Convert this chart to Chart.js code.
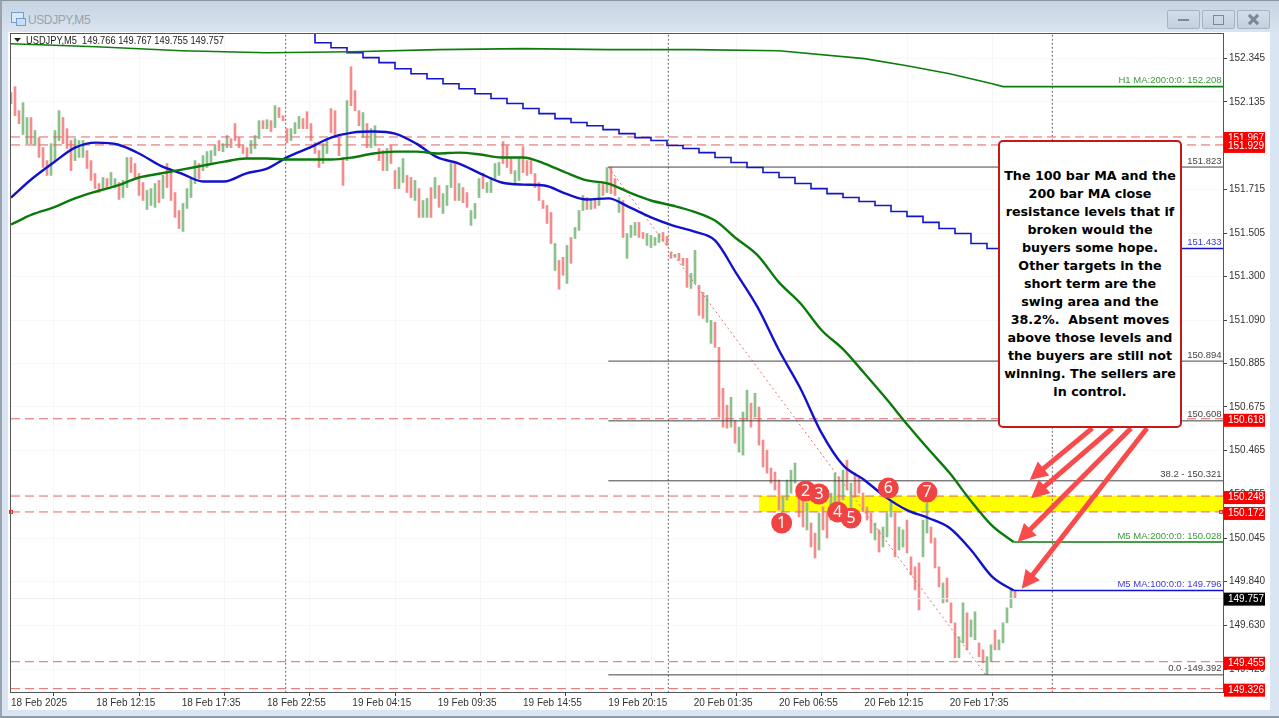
<!DOCTYPE html>
<html>
<head>
<meta charset="utf-8">
<title>USDJPY,M5</title>
<script src="https://cdn.jsdelivr.net/npm/chart.js@4"></script>
<style>
  html, body { margin: 0; padding: 0; width: 1279px; height: 718px; overflow: hidden; background: #d7e3f0; }
  #frame { position: absolute; left: 0; top: 0; width: 1279px; height: 718px; box-sizing: border-box;
           border-top: 1px solid #8b949e; border-left: 2px solid #9aa3ad; border-bottom: 2px solid #8f9aa6;
           background: linear-gradient(#c6d3e1 0px, #dbe5f0 32px, #d9e5f2 32px); }
  #titleText { position: absolute; left: 26px; top: 12px; font: 12px "Liberation Sans", sans-serif; letter-spacing: -0.4px; color: #97a3af; }
  #icon { position: absolute; left: 9px; top: 11px; width: 11px; height: 9px; border: 1px solid #6f9fd0; background: #dbe9f7; }
  #icon2 { position: absolute; left: 14px; top: 17px; width: 8px; height: 6px; border: 1px solid #6f9fd0; background: #c7def5; }
  .btn { position: absolute; top: 9px; width: 33px; height: 19px; border: 1px solid #a5b3c2; border-radius: 2px;
         background: linear-gradient(#d3deea, #c3d0df); box-sizing: border-box; }
  .btn i { position: absolute; display: block; }
  #panel { position: absolute; left: 6px; top: 31px; width: 1262px; height: 678px; background: #fff; }
  #chart { position: absolute; left: 0; top: 0; }
  #note { position: absolute; left: 998px; top: 140px; width: 184px; height: 288px; box-sizing: border-box;
          background: #fff; border: 2px solid #c41a1a; border-radius: 5px; text-align: center;
          font: bold 12.7px/18px "DejaVu Sans", sans-serif; color: #000; padding-top: 25px; white-space: pre; }
</style>
</head>
<body>
<div id="frame">
  <div id="icon"></div><div id="icon2"></div>
  <div id="titleText">USDJPY,M5</div>
  <div class="btn" style="left:1165px"><i style="left:10px;top:8px;width:11px;height:2px;background:#7c8894"></i></div>
  <div class="btn" style="left:1200px"><i style="left:10px;top:4px;width:9px;height:8px;border:1px solid #7c8894"></i></div>
  <div class="btn" style="left:1235px"><i style="left:14px;top:2px;width:3px;height:13px;background:#7c8894;transform:rotate(45deg)"></i><i style="left:14px;top:2px;width:3px;height:13px;background:#7c8894;transform:rotate(-45deg)"></i></div>
  <div id="panel"></div>
</div>
<canvas id="chart" width="1279" height="718"></canvas>
<div id="note">The 100 bar MA and the
200 bar MA close
resistance levels that if
broken would the
buyers some hope.
Other targets in the
short term are the
swing area and the
38.2%.  Absent moves
above those levels and
the buyers are still not
winning. The sellers are
in control.</div>
<script>
// Candles, read every third M5 bar off the picture
const candleHigh = [
  152.179,152.208,152.093,152.131,152.060,152.060,151.998,151.964,151.916,151.854,
  151.935,151.998,152.093,152.060,152.007,151.950,151.959,151.950,151.950,151.902,
  151.854,151.792,151.744,151.773,151.768,151.797,151.768,151.749,151.759,151.869,
  151.869,151.840,151.792,151.749,151.711,151.720,151.744,151.759,151.783,151.840,
  151.806,151.701,151.615,151.649,151.720,151.768,151.854,151.840,151.878,151.897,
  151.902,151.926,151.950,151.935,151.974,151.959,152.031,151.964,151.926,151.916,
  151.950,151.974,152.045,152.045,152.050,152.045,152.117,152.108,152.069,152.007,
  152.007,152.036,152.065,152.055,152.088,152.031,151.940,151.902,151.935,151.950,
  152.103,152.093,151.964,151.869,152.141,152.303,152.189,152.093,152.084,152.031,
  152.007,152.021,151.912,151.902,151.912,151.926,151.806,151.821,151.864,151.783,
  151.773,151.759,151.720,151.663,151.673,151.725,151.773,151.735,151.696,151.735,
  151.840,151.840,151.744,151.725,151.701,151.615,151.649,151.768,151.792,151.749,
  151.773,151.840,151.845,151.945,151.926,151.864,151.806,151.864,151.921,151.854,
  151.854,151.792,151.749,151.663,151.639,151.606,151.457,151.376,151.391,151.448,
  151.486,151.534,151.615,151.687,151.677,151.673,151.673,151.744,151.744,151.821,
  151.821,151.768,151.677,151.663,151.505,151.544,151.558,151.558,151.510,151.505,
  151.496,151.486,151.505,151.510,151.491,151.414,151.405,151.410,151.386,151.386,
  151.314,151.424,151.257,151.223,151.209,151.089,151.080,150.960,150.764,150.683,
  150.721,150.611,150.578,150.650,150.755,150.693,150.740,150.674,150.516,150.468,
  150.382,150.363,150.325,150.243,150.325,150.372,150.406,150.262,150.229,150.215,
  150.119,150.071,150.167,150.196,150.167,150.262,150.358,150.339,150.372,150.420,
  150.310,150.358,150.339,150.262,150.196,150.167,150.119,150.086,150.100,150.167,
  150.220,150.167,150.100,150.086,150.133,149.957,149.909,149.928,150.133,150.215,
  150.100,150.047,149.909,149.832,149.856,149.737,149.641,149.574,149.737,149.689,
  149.655,149.694,149.545,149.512,149.479,149.536,149.607,149.560,149.641,149.713,
  149.808,149.799
];
const candleLow = [
  152.127,152.069,152.031,151.979,151.935,151.935,151.926,151.869,151.821,151.783,
  151.783,151.854,151.950,151.935,151.912,151.806,151.854,151.869,151.869,151.816,
  151.759,151.720,151.701,151.720,151.725,151.735,151.725,151.668,151.677,151.725,
  151.797,151.773,151.687,151.663,151.620,151.639,151.630,151.653,151.673,151.725,
  151.663,151.582,151.529,151.515,151.625,151.677,151.744,151.768,151.806,151.821,
  151.845,151.878,151.902,151.897,151.916,151.916,151.950,151.916,151.888,151.869,
  151.888,151.912,151.959,152.007,152.007,151.993,152.012,152.060,152.045,151.940,
  151.950,151.983,152.007,152.007,152.007,151.950,151.888,151.821,151.840,151.888,
  151.988,151.964,151.878,151.735,151.854,152.117,152.093,152.021,151.964,151.916,
  151.916,151.926,151.854,151.806,151.806,151.840,151.720,151.720,151.749,151.701,
  151.677,151.663,151.582,151.582,151.582,151.582,151.673,151.630,151.601,151.639,
  151.725,151.663,151.663,151.653,151.630,151.544,151.577,151.677,151.720,151.701,
  151.701,151.759,151.783,151.840,151.821,151.792,151.749,151.759,151.797,151.783,
  151.792,151.725,151.663,151.625,151.553,151.457,151.328,151.238,151.305,151.266,
  151.362,151.481,151.520,151.615,151.620,151.620,151.625,151.639,151.687,151.701,
  151.696,151.687,151.606,151.486,151.386,151.486,151.496,151.486,151.481,151.448,
  151.438,151.448,151.462,151.467,151.448,151.386,151.391,151.376,151.352,151.247,
  151.242,151.266,151.113,151.099,151.080,150.979,150.960,150.626,150.578,150.573,
  150.578,150.501,150.458,150.444,150.611,150.578,150.626,150.492,150.387,150.358,
  150.310,150.277,150.181,150.172,150.229,150.262,150.310,150.148,150.100,150.086,
  150.004,149.952,149.990,150.086,150.047,150.133,150.196,150.215,150.229,150.277,
  150.196,150.243,150.262,150.172,150.133,150.071,150.038,149.980,150.004,150.052,
  150.148,149.957,149.990,150.004,149.976,149.871,149.799,149.703,149.957,150.071,
  150.023,149.904,149.813,149.737,149.741,149.641,149.474,149.474,149.545,149.512,
  149.574,149.560,149.479,149.450,149.393,149.455,149.512,149.512,149.545,149.641,
  149.713,149.761
];
const candleUp = [
  0,0,0,1,1,0,1,0,0,0, 1,1,1,0,0,0,1,1,1,0, 0,0,0,1,0,1,1,0,1,1, 0,0,0,0,1,1,1,0,1,0, 0,0,0,1,1,1,1,0,1,1,
  1,1,0,1,1,0,0,0,0,0, 1,1,1,0,1,0,1,0,0,0, 1,1,1,0,0,0,0,0,1,1, 0,0,0,0,1,0,0,0,1,0, 1,1,0,0,1,0,0,1,1,0,
  0,1,0,1,1,0,1,0,1,1, 1,0,1,0,0,1,1,1,0,1, 1,1,1,0,0,0,1,1,0,0, 0,0,0,0,0,0,1,0,0,1, 0,1,1,1,0,1,0,1,0,1,
  0,0,1,0,1,1,1,0,0,1, 1,1,1,0,0,0,1,0,0,0, 1,1,0,0,1,1,0,0,0,0, 1,0,1,1,1,0,1,0,0,0, 0,0,
  0,1,1,1,1,0,0,1,0,0, 1,0,0,1,1,0,1,0,1,0, 0,0,0,0,1,0,1,1,1,0, 1,1,0,0,0,0,1,1,0,0, 0,1,0,0,0,1,1,0,1,1, 0,0,1,1,0,1,1,1,1,0
];

// Moving averages, one reading every 16 bars
const ma100 = [
  151.677,151.768,151.845,151.916,151.940,151.931,151.888,151.830,151.792,151.754,
  151.754,151.792,151.816,151.873,151.916,151.964,151.988,151.993,151.983,151.935,
  151.869,151.840,151.792,151.749,151.739,151.735,151.696,151.668,151.673,151.630,
  151.582,151.544,151.515,151.472,151.314,151.151,150.946,150.764,150.549,150.396,
  150.325,150.243,150.181,150.143,150.095,149.990,149.861,149.796
];
const ma200 = [
  151.548,151.596,151.630,151.673,151.706,151.735,151.773,151.792,151.811,151.830,
  151.849,151.864,151.864,151.859,151.859,151.859,151.869,151.888,151.897,151.897,
  151.888,151.892,151.883,151.869,151.869,151.840,151.797,151.759,151.744,151.701,
  151.663,151.639,151.610,151.567,151.481,151.400,151.271,151.171,151.042,150.951,
  150.836,150.717,150.592,150.473,150.358,150.224,150.105,150.028
];
const maStep = 16;

// H1 200 MA (green, top of the chart)
const h1Bars = [0,64,128,192,256,320,384,448,512,576,640,672,704,736,744,909];
const h1Ma = [152.413,152.399,152.380,152.370,152.375,152.385,152.390,152.385,152.385,152.380,152.342,152.308,152.270,152.222,152.208,152.208];

// Stepped blue MA, one reading per 12 bars from bar 228
const stepStart = 228;
const stepBars = 12;
const stepMa = [
  152.437,152.418,152.394,152.370,152.347,152.323,152.294,152.270,152.246,152.222,
  152.198,152.174,152.151,152.127,152.103,152.079,152.055,152.036,152.021,152.002,
  151.983,151.964,151.950,151.926,151.912,151.892,151.869,151.845,151.821,151.797,
  151.773,151.744,151.720,151.696,151.677,151.658,151.639,151.610,151.587,151.558,
  151.529,151.505,151.457,151.433
];

// Horizontal levels
const dashedLevels = [151.967, 151.929, 150.618, 150.248, 150.172, 149.455, 149.326];
const fibLevels = [151.823, 150.894, 150.608, 150.321, 149.392];
const fibStartBar = 448;
const fibEndBar = 731;
const bandTop = 150.248;
const bandBottom = 150.172;
const bandStartBar = 561;
const separatorBars = [206, 493, 781];

// Numbered swing markers
const markerBars = [578, 596, 606, 620, 630, 658, 687];
const markerPrices = [150.119, 150.272, 150.258, 150.172, 150.143, 150.286, 150.267];
const markerNames = ['1','2','3','4','5','6','7'];

// Arrows from the note down to the levels
const arrowFromBars = [811, 826, 840, 852];
const arrowToBars = [764, 765, 755, 758];
const arrowFromPrice = 150.573;
const arrowToPrices = [150.325, 150.238, 150.028, 149.804];

// Axis ticks
const xTickBars = [0,64,128,192,256,320,384,448,512,576,640,704];
const xTickNames = ['18 Feb 2025','18 Feb 12:15','18 Feb 17:35','18 Feb 22:55','19 Feb 04:15','19 Feb 09:35',
  '19 Feb 14:55','19 Feb 20:15','20 Feb 01:35','20 Feb 06:55','20 Feb 12:15','20 Feb 17:35'];
const yTicks = [152.345,152.135,151.925,151.715,151.505,151.300,151.090,150.885,150.675,150.465,150.255,150.045,149.840,149.630,149.420];

const lastBar = 909;
const lastPrice = 149.757;
const headerText = 'USDJPY,M5  149.766 149.767 149.755 149.757';

// Text over the right end of the lines
const rightLabels = [
  ['H1 MA:200:0:0: 152.208', 152.208, '#3a9a3a'],
  ['151.823', 151.823, '#444'],
  ['151.433', 151.433, '#3a3ad8'],
  ['150.894', 150.894, '#444'],
  ['150.608', 150.608, '#444'],
  ['38.2 - 150.321', 150.321, '#444'],
  ['M5 MA:200:0:0: 150.028', 150.028, '#3a9a3a'],
  ['M5 MA:100:0:0: 149.796', 149.796, '#3a3ad8'],
  ['0.0 -149.392', 149.392, '#444']
];

const candleData = candleHigh.map((h, i) => ({ x: i * 3, y: [candleLow[i], h] }));
const candleColors = candleUp.map(u => u ? '#8cc08c' : '#f08e8e');
const ma100Data = ma100.map((v, i) => ({ x: i * maStep, y: v }));
const ma200Data = ma200.map((v, i) => ({ x: i * maStep, y: v }));
const stepData = [{ x: stepStart, y: 152.47 }].concat(stepMa.map((v, i) => ({ x: stepStart + i * stepBars, y: v })));
stepData.push({ x: lastBar, y: stepMa[stepMa.length - 1] });

function flatLine(y, from, to, color, width, dash, order) {
  return { type: 'line', data: [{ x: from, y: y }, { x: to, y: y }], borderColor: color, borderWidth: width,
           borderDash: dash, pointRadius: 0, order: order };
}

const datasets = [
  { type: 'line', data: [{ x: bandStartBar, y: bandTop }, { x: lastBar, y: bandTop }], borderWidth: 0, pointRadius: 0,
    fill: { target: { value: bandBottom } }, backgroundColor: '#ffff00', order: 9 },
  { type: 'bar', data: candleData, backgroundColor: candleColors, barThickness: 2, grouped: false, order: 6 },
  { type: 'line', data: [{ x: fibStartBar, y: fibLevels[0] }, { x: fibEndBar, y: fibLevels[4] }], borderColor: '#e46f6f',
    borderWidth: 1, borderDash: [2, 3], pointRadius: 0, order: 5 },
  { type: 'line', data: h1Bars.map((b, i) => ({ x: b, y: h1Ma[i] })), borderColor: '#0e7d0e', borderWidth: 1.6, pointRadius: 0, order: 3 },
  { type: 'line', data: stepData, borderColor: '#1414cc', borderWidth: 1.6, pointRadius: 0, stepped: 'after', order: 3 },
  { type: 'line', data: ma200Data, borderColor: '#0b7a0b', borderWidth: 2.4, pointRadius: 0, cubicInterpolationMode: 'monotone', order: 2 },
  { type: 'line', data: ma100Data, borderColor: '#1212cc', borderWidth: 2.4, pointRadius: 0, cubicInterpolationMode: 'monotone', order: 2 },
  flatLine(ma200[ma200.length - 1], (ma200.length - 1) * maStep, lastBar, '#0b7a0b', 1.6, [], 2),
  flatLine(ma100[ma100.length - 1], (ma100.length - 1) * maStep, lastBar, '#1212cc', 1.6, [], 2),
  { type: 'line', data: markerBars.map((b, i) => ({ x: b, y: markerPrices[i] })), showLine: false, pointRadius: 10.5,
    pointBackgroundColor: '#f04343', pointBorderWidth: 0, order: 0 }
];
dashedLevels.forEach(v => datasets.push(flatLine(v, 0, lastBar, '#e56464', 1, [9, 5], 4)));
fibLevels.forEach(v => datasets.push(flatLine(v, fibStartBar, lastBar, '#444', 1, [], 4)));
separatorBars.forEach(b => datasets.push({ type: 'line', data: [{ x: b, y: 149 }, { x: b, y: 153 }], borderColor: '#666',
  borderWidth: 1, borderDash: [2, 2], pointRadius: 0, order: 8 }));

const overlay = {
  id: 'overlay',
  afterDatasetsDraw(chart) {
    const c = chart.ctx, a = chart.chartArea, sx = chart.scales.x, sy = chart.scales.y;
    c.save();

    // window border of the plot
    c.strokeStyle = '#555';
    c.lineWidth = 1;
    c.strokeRect(a.left - 0.5, a.top - 0.5, a.right - a.left + 1, a.bottom - a.top + 1);

    // last price line
    c.strokeStyle = '#ececec';
    c.beginPath();
    c.moveTo(a.left, sy.getPixelForValue(lastPrice));
    c.lineTo(a.right, sy.getPixelForValue(lastPrice));
    c.stroke();

    // numbers on the swing markers
    c.fillStyle = '#fff';
    c.font = '16px "Noto Sans", sans-serif';
    c.textAlign = 'center';
    c.textBaseline = 'middle';
    markerBars.forEach((b, i) => c.fillText(markerNames[i], sx.getPixelForValue(b), sy.getPixelForValue(markerPrices[i]) + 0.5));

    // arrows
    c.strokeStyle = '#f94b4b';
    c.fillStyle = '#f94b4b';
    c.lineWidth = 5;
    arrowToBars.forEach((b, i) => {
      const x0 = sx.getPixelForValue(arrowFromBars[i]), y0 = sy.getPixelForValue(arrowFromPrice);
      const x1 = sx.getPixelForValue(b), y1 = sy.getPixelForValue(arrowToPrices[i]);
      const ang = Math.atan2(y1 - y0, x1 - x0);
      c.beginPath();
      c.moveTo(x0, y0);
      c.lineTo(x1 - 10 * Math.cos(ang), y1 - 10 * Math.sin(ang));
      c.stroke();
      c.beginPath();
      c.moveTo(x1, y1);
      c.lineTo(x1 - 18 * Math.cos(ang) + 9 * Math.sin(ang), y1 - 18 * Math.sin(ang) - 9 * Math.cos(ang));
      c.lineTo(x1 - 18 * Math.cos(ang) - 9 * Math.sin(ang), y1 - 18 * Math.sin(ang) + 9 * Math.cos(ang));
      c.closePath();
      c.fill();
    });

    // small labels over the lines
    c.font = '9.5px "Liberation Sans", sans-serif';
    c.textAlign = 'right';
    rightLabels.forEach(l => {
      c.fillStyle = l[2];
      c.fillText(l[0], a.right - 1.5, sy.getPixelForValue(l[1]) - 6);
    });

    // little anchor squares of the 150.172 line
    c.strokeStyle = '#e03030';
    c.lineWidth = 1;
    c.strokeRect(a.left - 1.5, sy.getPixelForValue(bandBottom) - 1.5, 3, 3);
    c.strokeRect(a.right - 3.5, sy.getPixelForValue(bandBottom) - 1.5, 3, 3);

    // header
    c.fillStyle = '#222';
    c.textAlign = 'left';
    c.font = '10.5px "Liberation Sans", sans-serif';
    c.fillText(headerText, 26, 41, 198);
    c.beginPath();
    c.moveTo(14, 38); c.lineTo(21, 38); c.lineTo(17.5, 42); c.closePath();
    c.fill();

    // price tags on the axis
    c.font = '10px "Liberation Sans", sans-serif';
    c.textAlign = 'left';
    dashedLevels.forEach(v => {
      const y = sy.getPixelForValue(v);
      c.fillStyle = '#f80000';
      c.fillRect(a.right + 1, y - 5, 41, 13);
      c.fillStyle = '#fff';
      c.fillText(v.toFixed(3), a.right + 5, y + 1.5);
    });
    const py = sy.getPixelForValue(lastPrice);
    c.fillStyle = '#000';
    c.fillRect(a.right + 1, py - 6, 41, 13);
    c.fillStyle = '#fff';
    c.fillText(lastPrice.toFixed(3), a.right + 5, py + 0.5);
    c.restore();
  }
};

new Chart(document.getElementById('chart').getContext('2d'), {
  data: { datasets: datasets },
  plugins: [overlay],
  options: {
    responsive: false,
    animation: false,
    events: [],
    layout: { padding: { left: 11, top: 34, right: 13, bottom: 4 } },
    plugins: { legend: { display: false }, tooltip: { enabled: false } },
    scales: {
      x: {
        type: 'linear',
        offset: false,
        min: 0,
        max: lastBar,
        afterBuildTicks(s) { s.ticks = xTickBars.map(v => ({ value: v })); },
        afterFit(s) { s.height = 22; },
        grid: { color: '#f7f7f7', tickColor: '#444', tickLength: 4 },
        border: { color: '#666' },
        ticks: {
          autoSkip: false, maxRotation: 0, minRotation: 0, align: 'start', padding: 1,
          color: '#333', font: { family: '"Liberation Sans", sans-serif', size: 10 },
          callback: (v) => xTickNames[xTickBars.indexOf(v)]
        }
      },
      y: {
        type: 'linear',
        position: 'right',
        min: 149.310,
        max: 152.460,
        afterBuildTicks(s) { s.ticks = yTicks.map(v => ({ value: v })); },
        afterFit(s) { s.width = 43; },
        grid: { color: '#f7f7f7', tickColor: '#444', tickLength: 4 },
        border: { color: '#555' },
        ticks: {
          padding: 2, color: '#333', font: { family: '"Liberation Sans", sans-serif', size: 10 },
          callback: (v) => v.toFixed(3)
        }
      }
    }
  }
});
</script>
</body>
</html>
